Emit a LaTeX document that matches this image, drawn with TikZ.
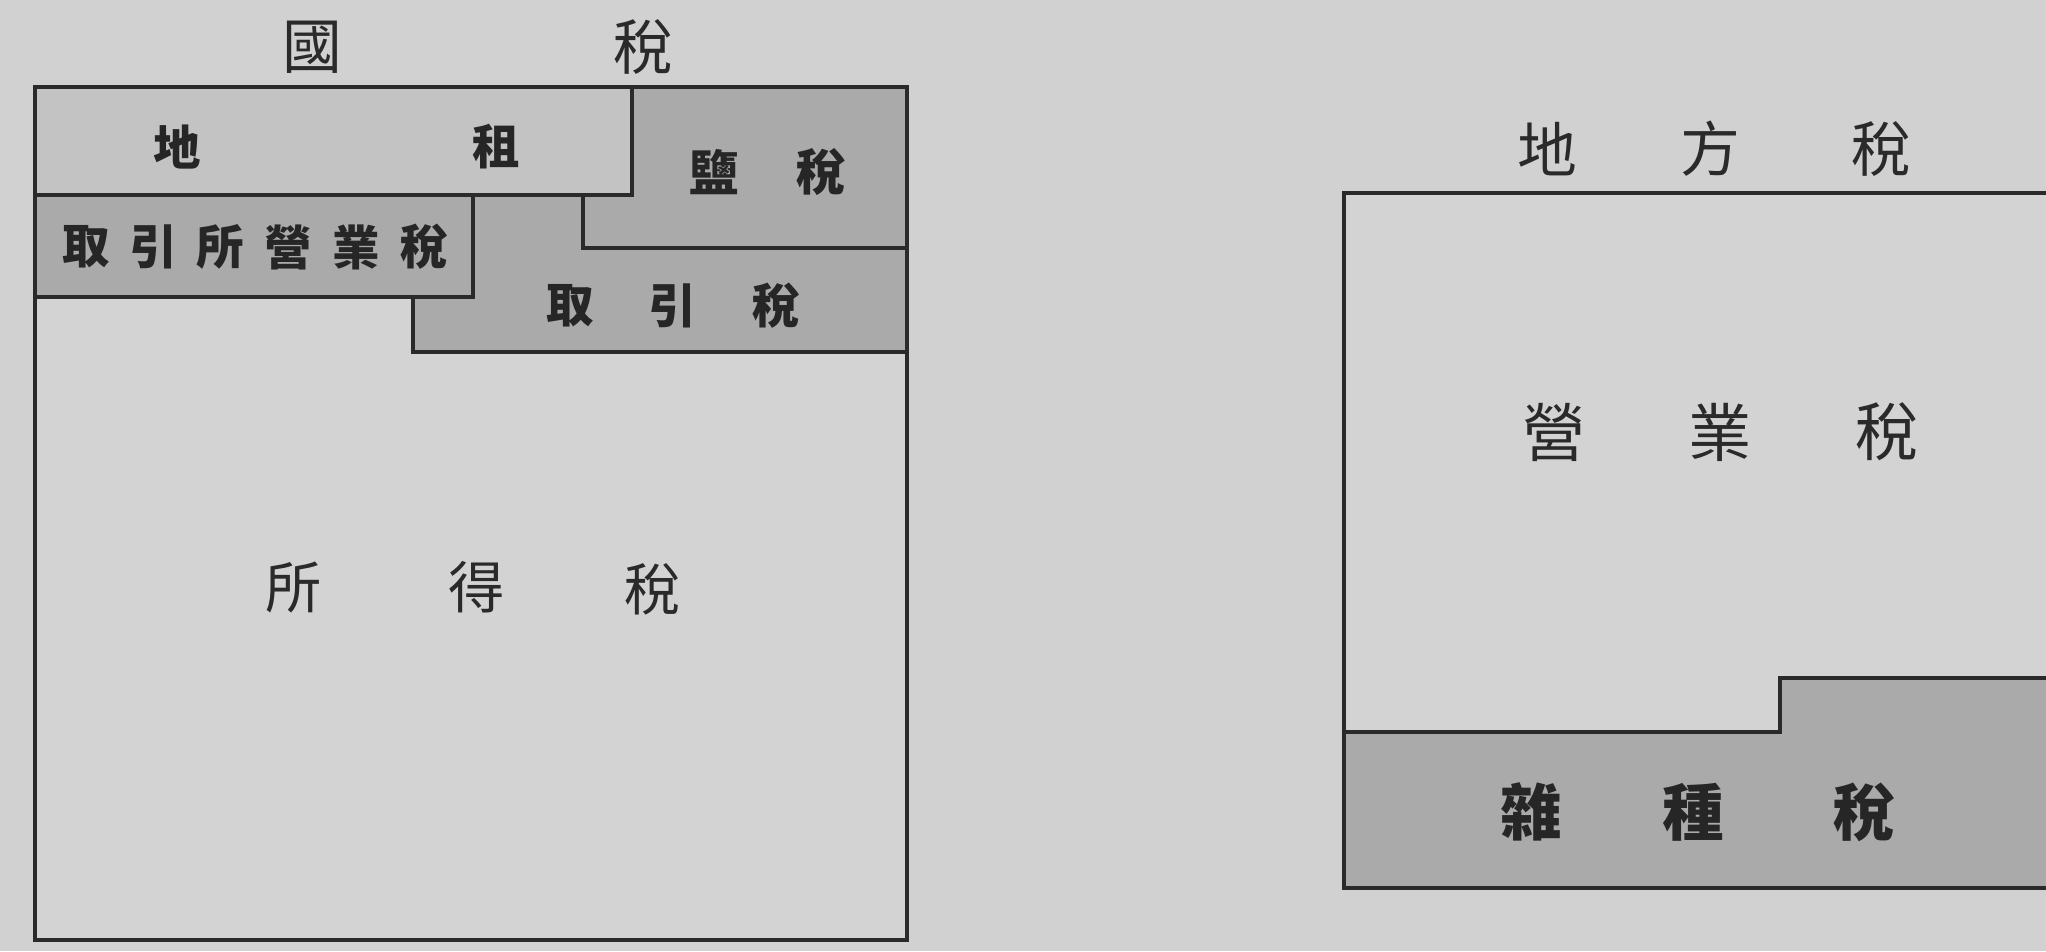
\documentclass[tikz,border=0pt]{standalone}
\usepackage{fontspec}
\newfontfamily\cjk{Noto Sans CJK TC}
\definecolor{paper}{HTML}{D1D1D1}
\definecolor{lightbox}{HTML}{D3D3D3}
\definecolor{midbox}{HTML}{C3C3C3}
\definecolor{darkbox}{HTML}{AAAAAA}
\definecolor{ink}{HTML}{2A2A2A}
\tikzset{
  border/.style={draw=ink, line width=1.05pt, line join=miter},
  plainlab/.style={inner sep=0pt, text=ink, font=\cjk\fontsize{#1}{#1}\selectfont},
  boldlab/.style={inner sep=0pt, text=ink!90!black, font=\cjk\bfseries\fontsize{#1}{#1}\selectfont},
}
\begin{document}
\begin{tikzpicture}[x=0.01cm, y=-0.01cm]
\clip (0,0) rectangle (2046,951);
\fill[paper] (0,0) rectangle (2046,951);
% ---------- left block: national taxes ----------
\fill[lightbox] (35,87) rectangle (907,940);
\draw[border] (35,87) rectangle (907,940);
% torihiki-zei
\filldraw[border, fill=darkbox] (413,195) rectangle (907,352);
% en-zei
\filldraw[border, fill=darkbox] (583,87) rectangle (907,248);
% torihikijo eigyo-zei
\filldraw[border, fill=darkbox] (35,195) rectangle (473,297);
% chiso
\filldraw[border, fill=midbox] (35,87) rectangle (632,195);
\draw[border] (35,87) rectangle (907,940);
% titles and labels
\node[plainlab=17pt] (kokuA) at (312,47) {國};
\node[plainlab=17pt] (kokuB) at (643,47) {稅};
\node[boldlab=13.5pt] (chisoA) at (177,147) {地};
\node[boldlab=13.5pt] (chisoB) at (496,147) {租};
\node[boldlab=14pt] (enA) at (714,172) {鹽};
\node[boldlab=14pt] (enB) at (821,172) {稅};
\node[boldlab=13.5pt] (tjA) at (86,247) {取};
\node[boldlab=13.5pt] (tjB) at (153,247) {引};
\node[boldlab=13.5pt] (tjC) at (220,247) {所};
\node[boldlab=13.5pt] (tjD) at (288,247) {營};
\node[boldlab=13.5pt] (tjE) at (356,247) {業};
\node[boldlab=13.5pt] (tjF) at (424,247) {稅};
\node[boldlab=13.5pt] (trA) at (570,306) {取};
\node[boldlab=13.5pt] (trB) at (672,306) {引};
\node[boldlab=13.5pt] (trC) at (776,306) {稅};
\node[plainlab=16pt] (shA) at (294,587) {所};
\node[plainlab=16pt] (shB) at (477,587) {得};
\node[plainlab=16pt] (shC) at (653,589) {稅};
% ---------- right block: local taxes ----------
\fill[lightbox] (1344,193) rectangle (2080,888);
\filldraw[border, fill=darkbox] (1344,732) -- (1780,732) -- (1780,678) -- (2080,678) -- (2080,888) -- (1344,888) -- cycle;
\draw[border] (1344,193) rectangle (2080,888);
\node[plainlab=17pt] (chihoA) at (1547,149) {地};
\node[plainlab=17pt] (chihoB) at (1710,149) {方};
\node[plainlab=17pt] (chihoC) at (1881,149) {稅};
\node[plainlab=18pt] (eiA) at (1554,432) {營};
\node[plainlab=18pt] (eiB) at (1720,432) {業};
\node[plainlab=18pt] (eiC) at (1887,432) {稅};
\node[boldlab=17.5pt] (zaA) at (1531,812) {雜};
\node[boldlab=17.5pt] (zaB) at (1693,812) {種};
\node[boldlab=17.5pt] (zaC) at (1864,812) {稅};
\end{tikzpicture}
\end{document}
